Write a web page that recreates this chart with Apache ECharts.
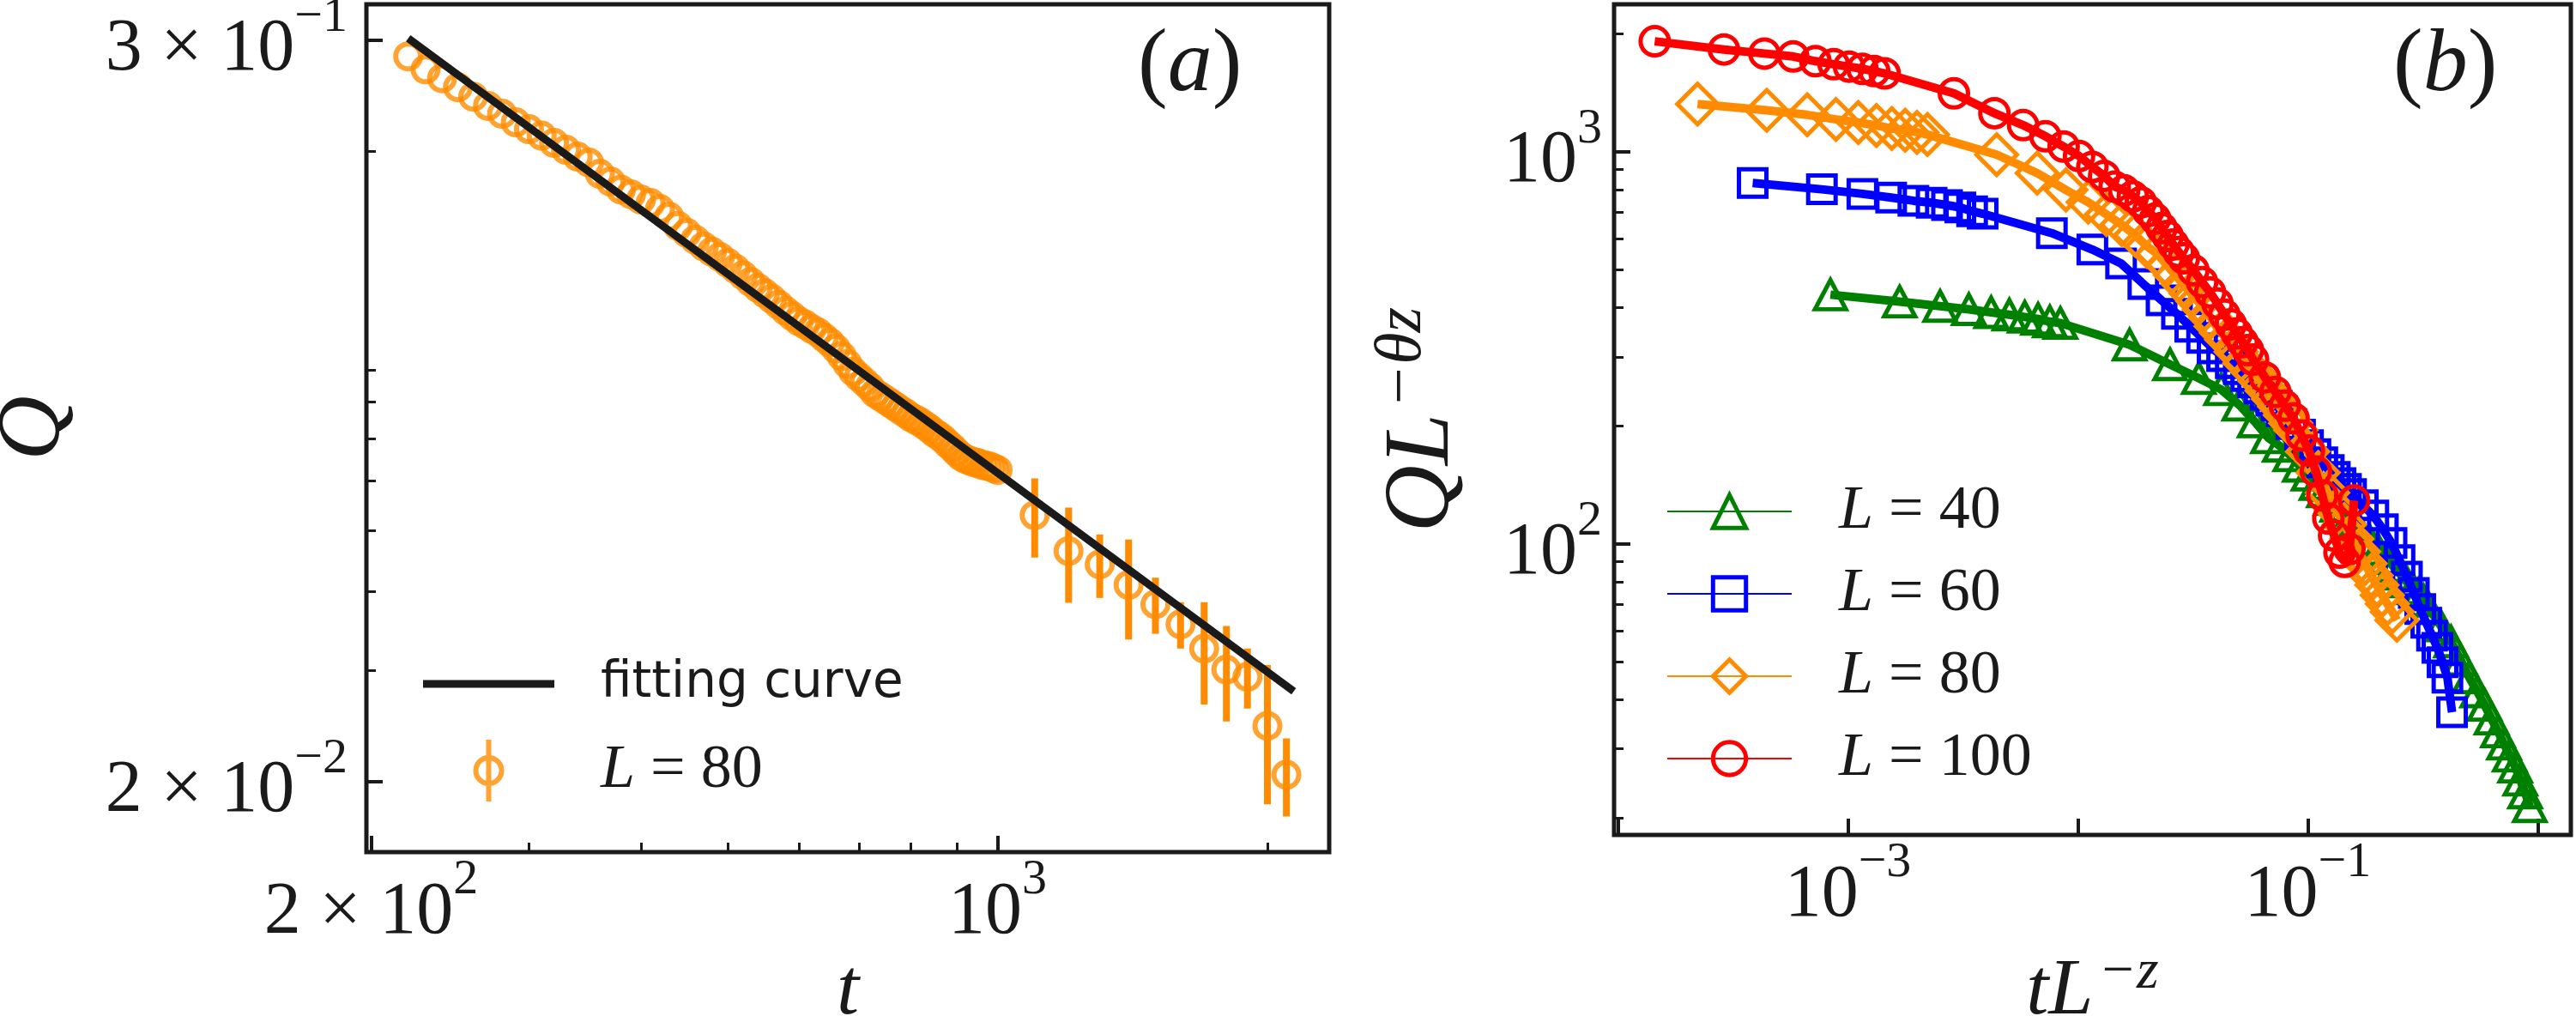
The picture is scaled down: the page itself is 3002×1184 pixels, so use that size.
<!DOCTYPE html>
<html>
<head>
<meta charset="utf-8">
<script src="https://cdn.jsdelivr.net/npm/echarts@6/dist/echarts.min.js"></script>
<style>
html, body { margin: 0; padding: 0; background: #fff; }
#chart { width: 3002px; height: 1184px; }
</style>
</head>
<body>
<div id="chart"></div>
<script>
// ----------- panel (a): Q(t), L = 80 -----------
var a_dense_t = [220, 230, 240, 250, 260, 270, 280, 290, 300, 310, 320, 330, 340, 350, 360, 370, 380, 390, 400,
    410, 420, 430, 440, 450, 460, 470, 480, 490, 500, 510, 520, 530, 540, 550, 560, 570, 580, 590, 600,
    610, 620, 630, 640, 650, 660, 670, 680, 690, 700, 710, 720, 730, 740, 750, 760, 770, 780, 790, 800,
    810, 820, 830, 840, 850, 860, 870, 880, 890, 900, 910, 920, 930, 940, 950, 960, 970, 980, 990, 1000]
var a_dense_q = [0.2827, 0.2697, 0.2610, 0.2526, 0.2440, 0.2359, 0.2293, 0.2222, 0.2167, 0.2117, 0.2061, 0.2010,
    0.1960, 0.1918, 0.1841, 0.1790, 0.1738, 0.1708, 0.1676, 0.1655, 0.1619, 0.1574, 0.1522, 0.1484, 0.1447,
    0.1412, 0.1385, 0.1359, 0.1330, 0.1301, 0.1271, 0.1241, 0.1214, 0.1190, 0.1166, 0.1141, 0.1116, 0.1095,
    0.1075, 0.1061, 0.1045, 0.1032, 0.1013, 0.0994, 0.0972, 0.0946, 0.0919, 0.0894, 0.0877, 0.0861, 0.0845,
    0.0826, 0.0816, 0.0806, 0.0796, 0.0786, 0.0776, 0.0767, 0.0757, 0.0750, 0.0743, 0.0734, 0.0725, 0.0715,
    0.0707, 0.0698, 0.0687, 0.0677, 0.0666, 0.0656, 0.0650, 0.0646, 0.0642, 0.0640, 0.0636, 0.0634, 0.0632,
    0.0628, 0.0624]
var a_sparse_t = [1100, 1200, 1300, 1400, 1500, 1600, 1700, 1800, 1900, 2000, 2100]
var a_sparse_q = [0.0529, 0.0464, 0.0442, 0.0410, 0.0382, 0.0355, 0.0325, 0.0301, 0.0293, 0.0245, 0.0205]
var a_sparse_err = [0.0076, 0.0080, 0.0051, 0.0074, 0.0039, 0.0030, 0.0060, 0.0052, 0.0032, 0.0061, 0.0029]
var a_fit_t = [220, 2140]
var a_fit_q = [0.302, 0.0278]

var a_x_major = [200, 1000]
var a_x_minor = [300, 400, 500, 600, 700, 800, 900, 2000]
var a_x_labels = [['2 × 10', '2'], ['10', '3']]
var a_y_major = [0.3, 0.02]
var a_y_minor = [0.2, 0.09, 0.08, 0.07, 0.06, 0.05, 0.04, 0.03]
var a_y_labels = [['3 × 10', '−1'], ['2 × 10', '−2']]

// ----------- panel (b): Q L^(-θz) vs t L^(-z) -----------
var b_z = 1.92
var b_t = [1, 2, 3, 4, 5, 6, 7, 8, 9, 10, 20, 30, 40, 50, 60, 70, 80, 90,
    100, 110, 120, 130, 140, 150, 160, 170, 180, 190, 200,
    220, 240, 260, 280, 300, 320, 340, 360, 380, 400,
    450, 500, 550, 600, 650, 700, 750, 800, 850, 900, 950, 1000, 1050, 1100]
var b_y40 = [432, 414.6, 403.9, 396.3, 389.3, 384, 379, 374.5, 368.8, 365.5,
    322, 286.7, 264.4, 247.6, 226.1, 205, 186.7, 177.6,
    168, 158, 150, 142, 136, 130, 125, 120.5, 116.3, 112.2, 108.4,
    102.5, 97, 91.8, 87.7, 83.8, 80.1, 76.9, 74.3, 71.7, 68.5,
    61.9, 56.3, 50.6, 45.6, 42, 38.8, 35.8, 33.2, 30.9, 28.8, 27, 25, 23.2, 21.4]
var b_y60 = [832, 802, 781, 764, 750, 741, 731, 721, 705, 695,
    620, 563, 519, 460, 418, 386, 358, 335,
    315, 301, 289, 279, 268, 258, 249, 240, 232, 225, 218,
    202, 190, 178.5, 169.3, 161.4, 154.2, 148.1, 142.9, 138, 134,
    125.5, 118.1, 109, 100.5, 90.9, 82.5, 75, 68.2, 62.9, 58.3, 54.3, 49.9, 45.6, 37.2]
var b_y80 = [1323, 1276, 1242, 1209, 1187, 1167, 1146, 1135, 1121, 1106,
    983, 882, 799, 744, 692, 652, 613, 574,
    549, 514, 484, 458, 435, 416, 396, 378, 359, 345, 332,
    309, 289, 274, 260, 246, 234, 224, 213, 203, 195,
    172, 152, 135, 122, 112, 103, 95.6, 89.1, 83, 78.5, 73.9, 70.3, 67.1, 63.9]
var b_y100 = [1913, 1823, 1780, 1750, 1702, 1672, 1648, 1627, 1606, 1584,
    1409, 1254, 1169, 1095, 1031, 975, 915, 868,
    815, 797, 770, 743, 706, 675, 639, 610, 580, 555, 535,
    499, 465, 438, 410, 384, 363, 344, 327, 312, 295,
    266, 244, 225, 209, 189, 173, 153, 133, 116, 105, 95, 90, 97, 129]

var b_x_major = [1e-4, 1e-3, 1e-2, 1e-1, 1]
var b_x_label_vals = [1e-3, 1e-1]
var b_x_labels = [['10', '−3'], ['10', '−1']]
var b_y_major = [100, 1000]
var b_y_minor = [20, 30, 40, 50, 60, 70, 80, 90, 200, 300, 400, 500, 600, 700, 800, 900, 2000]
var b_y_labels = [['10', '2'], ['10', '3']]

var legend_text = {
    fit: '{s|fitting curve}',
    a80: '{i|L}{n| = 80}',
    b40: '{i|L}{n| = 40}',
    b60: '{i|L}{n| = 60}',
    b80: '{i|L}{n| = 80}',
    b100: '{i|L}{n| = 100}'
}

// ----------- 样式 -----------
var INK = '#1a1a1a'
var SERIF = 'Liberation Serif'
var SANS = 'DejaVu Sans'
var ORANGE = '#ff8c00'
var colors = { b40: '#008000', b60: '#0000ff', b80: '#ff8c00', b100: '#ff0000' }
var CLEAR = 'rgba(0,0,0,0)'

var tick_rich = {
    b: { fontFamily: SERIF, fontSize: 86, lineHeight: 110, verticalAlign: 'bottom', color: INK },
    s: { fontFamily: SERIF, fontSize: 58, lineHeight: 84, verticalAlign: 'top', color: INK }
}
function name_rich(size) {
    var sup = Math.round(size * 0.7)
    return {
        i: { fontFamily: SERIF, fontStyle: 'italic', fontSize: size, lineHeight: size + 8, verticalAlign: 'bottom', color: INK },
        m: { fontFamily: SERIF, fontSize: sup, lineHeight: sup + 6, verticalAlign: 'top', padding: [0, 0, 0, 6], color: INK },
        j: { fontFamily: SERIF, fontStyle: 'italic', fontSize: sup, lineHeight: sup + 6, verticalAlign: 'top', color: INK }
    }
}
var legend_rich = {
    i: { fontFamily: SERIF, fontStyle: 'italic', fontSize: 72, lineHeight: 60, color: INK },
    n: { fontFamily: SERIF, fontSize: 72, lineHeight: 60, color: INK },
    s: { fontFamily: SANS, fontSize: 58, lineHeight: 60, color: INK }
}

function tick_formatter(vals, labels) {
    return function (value) {
        for (var i = 0; i < vals.length; i++) {
            if (Math.abs(Math.log10(value) - Math.log10(vals[i])) < 1e-6) {
                return '{b|' + labels[i][0] + '}{s|' + labels[i][1] + '}'
            }
        }
        return ''
    }
}

function log_axis(o) {
    var axis = {
        type: 'log', gridIndex: o.grid, position: o.pos, min: o.min, max: o.max,
        silent: true,
        axisLine: { show: false },
        splitLine: { show: false },
        axisTick: { show: true, inside: true, length: o.len, customValues: o.ticks, lineStyle: { color: INK, width: o.width } },
        axisLabel: { show: false }
    }
    if (o.labels) {
        axis.axisLabel = {
            show: true, customValues: o.labelVals, formatter: tick_formatter(o.labelVals, o.labels),
            margin: o.margin, rich: tick_rich, color: INK
        }
    }
    if (o.name) {
        axis.name = o.name
        axis.nameLocation = 'middle'
        axis.nameGap = o.nameGap
        axis.nameRotate = o.nameRotate
        axis.nameMoveOverlap = false
        axis.nameTextStyle = { rich: name_rich(o.nameSize), fontFamily: SERIF, fontStyle: 'italic', fontSize: o.nameSize, lineHeight: o.nameSize + 8, color: INK }
    }
    return axis
}

// 误差棒
var a_err_data = a_sparse_t.map(function (t, i) {
    return [t, a_sparse_q[i] - a_sparse_err[i], a_sparse_q[i] + a_sparse_err[i]]
})
var a_points = a_dense_t.map(function (t, i) { return [t, a_dense_q[i]] })
    .concat(a_sparse_t.map(function (t, i) { return [t, a_sparse_q[i]] }))

var ERR_ICON = 'path://M0,-36L0,36M15,0A15,15,0,1,1,-15,0A15,15,0,1,1,15,0Z'
var LINE_ICON = 'path://M0,-4.5L153,-4.5L153,4.5L0,4.5Z'

function b_series(key, L, ys, symbol, size, z) {
    return {
        name: key, type: 'line', xAxisIndex: 2, yAxisIndex: 2, z: z,
        data: b_t.map(function (t, i) { return [t * Math.pow(L, -b_z), ys[i]] }),
        symbol: symbol, symbolSize: size, showSymbol: true, showAllSymbol: true,
        lineStyle: { color: colors[key], width: 10 },
        itemStyle: { color: CLEAR, borderColor: colors[key], borderWidth: 5 },
        emphasis: { disabled: true }
    }
}

var option = {
    animation: false,
    backgroundColor: '#ffffff',
    title: [
        { text: '({i|a})', left: 1321, top: 19, textStyle: { fontFamily: SERIF, fontWeight: 'normal', fontSize: 104, lineHeight: 108, color: INK, rich: { i: { fontFamily: SERIF, fontStyle: 'italic', fontSize: 104, lineHeight: 108, color: INK } } } },
        { text: '({i|b})', left: 2784, top: 19, textStyle: { fontFamily: SERIF, fontWeight: 'normal', fontSize: 104, lineHeight: 108, color: INK, rich: { i: { fontFamily: SERIF, fontStyle: 'italic', fontSize: 104, lineHeight: 108, color: INK } } } }
    ],
    grid: [
        { left: 427, top: 5, width: 1122, height: 988, outerBoundsMode: 'none', containLabel: false, show: true, borderColor: INK, borderWidth: 5, backgroundColor: CLEAR },
        { left: 1881, top: 5, width: 1115, height: 968, outerBoundsMode: 'none', containLabel: false, show: true, borderColor: INK, borderWidth: 5, backgroundColor: CLEAR }
    ],
    xAxis: [
        log_axis({ grid: 0, pos: 'bottom', min: 197.6, max: 2344, len: 19, width: 4, ticks: a_x_major, labelVals: a_x_major, labels: a_x_labels, margin: 4, name: 't', nameGap: 112, nameSize: 94 }),
        log_axis({ grid: 0, pos: 'bottom', min: 197.6, max: 2344, len: 11, width: 3, ticks: a_x_minor }),
        log_axis({ grid: 1, pos: 'bottom', min: 9.62e-5, max: 1.393, len: 19, width: 4, ticks: b_x_major, labelVals: b_x_label_vals, labels: b_x_labels, margin: 4, name: '{i|tL}{m|−}{j|z}', nameGap: 128, nameSize: 94 })
    ],
    yAxis: [
        log_axis({ grid: 0, pos: 'left', min: 0.01545, max: 0.342, len: 19, width: 4, ticks: a_y_major, labelVals: a_y_major, labels: a_y_labels, margin: 22, name: 'Q', nameGap: 330, nameRotate: 90, nameSize: 104 }),
        log_axis({ grid: 0, pos: 'left', min: 0.01545, max: 0.342, len: 11, width: 3, ticks: a_y_minor }),
        log_axis({ grid: 1, pos: 'left', min: 18.1, max: 2377, len: 19, width: 4, ticks: b_y_major, labelVals: b_y_major, labels: b_y_labels, margin: 14, name: '{i|QL}{m|−}{j|θz}', nameGap: 168, nameRotate: 90, nameSize: 108 }),
        log_axis({ grid: 1, pos: 'left', min: 18.1, max: 2377, len: 11, width: 3, ticks: b_y_minor })
    ],
    legend: [
        {
            orient: 'vertical', left: 488, top: 762, itemWidth: 153, itemHeight: 72, itemGap: 32, selectedMode: false,
            data: [
                { name: 'fit', icon: LINE_ICON, itemStyle: { color: INK, borderWidth: 0 } },
                { name: 'a80', icon: ERR_ICON, itemStyle: { color: CLEAR, borderColor: ORANGE, borderWidth: 6 } }
            ],
            formatter: function (name) { return legend_text[name] },
            textStyle: { padding: [0, 0, 0, 49], lineHeight: 60, fontSize: 58, color: INK, rich: legend_rich }
        },
        {
            orient: 'vertical', left: 1937, top: 555, itemWidth: 145, itemHeight: 48, itemGap: 24, selectedMode: false,
            data: ['b40', 'b60', 'b80', 'b100'],
            formatter: function (name) { return legend_text[name] },
            itemStyle: { borderWidth: 5 },
            textStyle: { padding: [0, 0, 0, 50], lineHeight: 60, fontSize: 72, color: INK, rich: legend_rich }
        }
    ],
    series: [
        {
            name: 'a_err', type: 'custom', xAxisIndex: 0, yAxisIndex: 0, z: 2, data: a_err_data,
            renderItem: function (params, api) {
                var p1 = api.coord([api.value(0), api.value(1)])
                var p2 = api.coord([api.value(0), api.value(2)])
                return { type: 'line', shape: { x1: p1[0], y1: p1[1], x2: p2[0], y2: p2[1] }, style: { stroke: ORANGE, lineWidth: 8 } }
            }
        },
        {
            name: 'a80', type: 'scatter', xAxisIndex: 0, yAxisIndex: 0, z: 3, data: a_points,
            symbol: 'circle', symbolSize: 29,
            itemStyle: { color: CLEAR, borderColor: ORANGE, borderWidth: 6 },
            emphasis: { disabled: true }
        },
        {
            name: 'fit', type: 'line', xAxisIndex: 0, yAxisIndex: 0, z: 4,
            data: a_fit_t.map(function (t, i) { return [t, a_fit_q[i]] }),
            symbol: 'none', lineStyle: { color: INK, width: 9 },
            itemStyle: { color: INK },
            emphasis: { disabled: true }
        },
        b_series('b40', 40, b_y40, 'triangle', [36, 34], 2),
        b_series('b60', 60, b_y60, 'rect', 32, 3),
        b_series('b80', 80, b_y80, 'diamond', [47, 47], 4),
        b_series('b100', 100, b_y100, 'circle', 33, 5)
    ]
}

var chart = echarts.init(document.getElementById('chart'))
chart.setOption(option)
</script>
</body>
</html>
